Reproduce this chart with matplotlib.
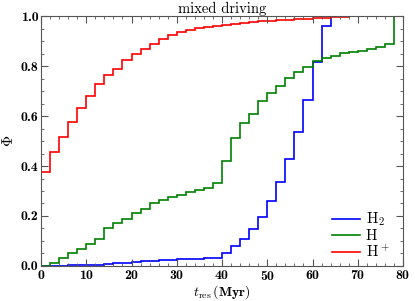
import numpy as np
import matplotlib
matplotlib.use("Agg")
import matplotlib.pyplot as plt
from matplotlib.ticker import MultipleLocator

plt.rcParams["font.family"] = "cmr10"
plt.rcParams["mathtext.fontset"] = "cm"
plt.rcParams["axes.formatter.use_mathtext"] = True

# bin edges in Myr (2 Myr bins)
edges = np.arange(0, 82, 2)

# cumulative fractions per bin
phi_h2 = [0.0, 0.001, 0.001, 0.002, 0.003, 0.004, 0.005, 0.007, 0.010, 0.013,
          0.016, 0.018, 0.020, 0.022, 0.024, 0.026, 0.028, 0.029, 0.030, 0.032,
          0.053, 0.078, 0.108, 0.147, 0.196, 0.261, 0.337, 0.428, 0.536, 0.664,
          0.817, 0.960, 1.0, 1.0, 1.0, 1.0, 1.0, 1.0, 1.0, 1.0]
phi_h = [0.0, 0.012, 0.031, 0.053, 0.069, 0.088, 0.108, 0.152, 0.172, 0.189,
         0.211, 0.229, 0.251, 0.264, 0.275, 0.284, 0.295, 0.302, 0.311, 0.331,
         0.421, 0.511, 0.571, 0.609, 0.659, 0.692, 0.722, 0.753, 0.775, 0.795,
         0.820, 0.831, 0.841, 0.851, 0.855, 0.859, 0.867, 0.875, 0.887, 1.0]
phi_hplus = [0.377, 0.457, 0.517, 0.576, 0.633, 0.679, 0.728, 0.763, 0.788, 0.823,
             0.849, 0.868, 0.889, 0.909, 0.924, 0.936, 0.944, 0.952, 0.957, 0.962,
             0.966, 0.970, 0.973, 0.976, 0.979, 0.981, 0.983, 0.985, 0.987, 0.989,
             0.991, 0.993, 0.995, 0.997, 0.999, 1.0, 1.0, 1.0, 1.0, 1.0]

yticks = [0, 0.2, 0.4, 0.6, 0.8, 1.0]
ytick_labels = ["0.0", "0.2", "0.4", "0.6", "0.8", "1.0"]

fig = plt.figure(figsize=(4.15, 3.01), dpi=100)
ax = fig.add_axes([0.0988, 0.1163, 0.8723, 0.8305])

ax.stairs(phi_h2, edges, baseline=None, color="#0000ff", lw=1.2, label=r"H$_2$")
ax.stairs(phi_h, edges, baseline=None, color="#008000", lw=1.2, label="H")
ax.stairs(phi_hplus, edges, baseline=None, color="#ff0000", lw=1.2, label=r"H$^+$")

ax.set_xlim(0, 80)
ax.set_ylim(0, 1)
ax.xaxis.set_major_locator(MultipleLocator(10))
ax.xaxis.set_minor_locator(MultipleLocator(2))
ax.yaxis.set_minor_locator(MultipleLocator(0.05))
ax.set_yticks(yticks)
ax.set_yticklabels(ytick_labels)
ax.tick_params(which="both", direction="in", top=True, right=True,
               color="#555555", labelsize=10, pad=2)
ax.tick_params(which="major", length=5)
ax.tick_params(which="minor", length=2.5)
for lab in ax.get_xticklabels() + ax.get_yticklabels():
    lab.set_fontfamily("cmb10")
for s in ax.spines.values():
    s.set_color("#555555")

ax.set_title("mixed driving", fontsize=10.5, pad=1)
ax.set_xlabel(r"$t_{\rm res}\,\mathbf{(Myr)}$", fontsize=10, labelpad=0)
ax.set_ylabel(r"$\Phi$", fontsize=11, labelpad=3)
ax.legend(loc="lower right", frameon=False, fontsize=11, handlelength=1.8,
          labelspacing=0.05, handletextpad=0.4, borderaxespad=0.0,
          bbox_to_anchor=(0.98, 0.0))

fig.savefig("out.png", dpi=100)
